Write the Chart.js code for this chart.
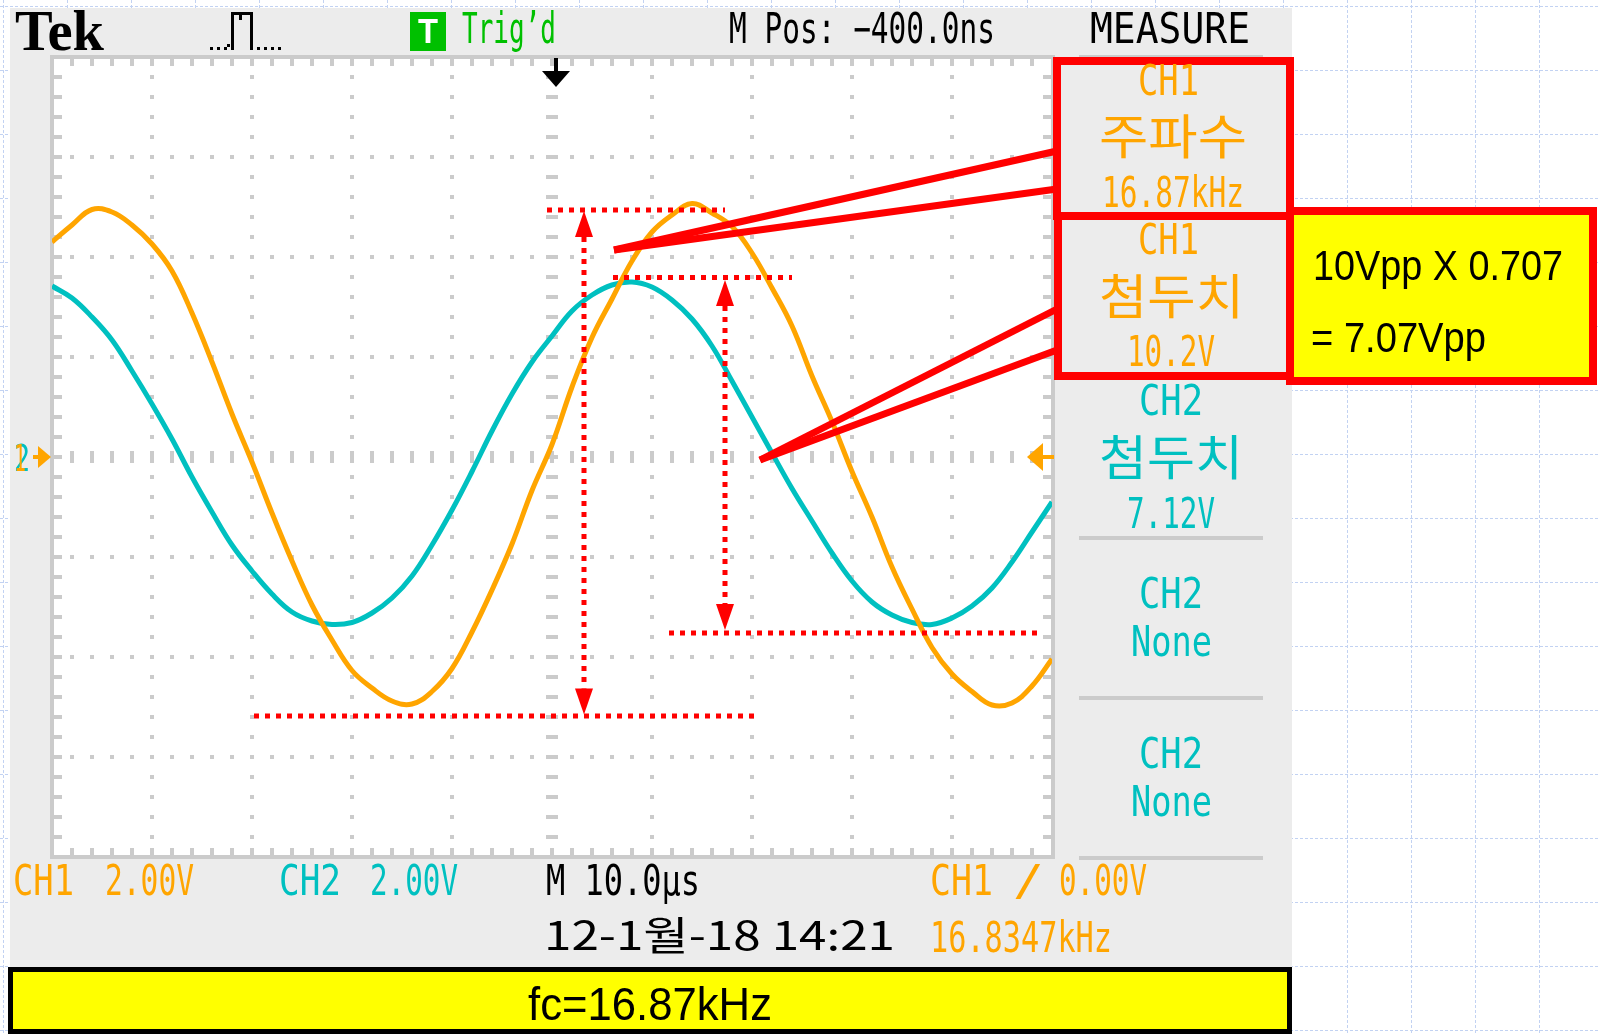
<!DOCTYPE html>
<html><head><meta charset="utf-8">
<script src="https://cdn.jsdelivr.net/npm/chart.js"></script>
<style>
html,body{margin:0;padding:0;background:#fff;overflow:hidden;}
#wrap{position:relative;width:1600px;height:1035px;}
#c{position:absolute;left:0;top:0;width:1600px;height:1035px;}
#ov{position:absolute;left:0;top:0;pointer-events:none;}
</style></head><body>
<div id="wrap"><canvas id="c" width="1600" height="1035"></canvas>
<svg id="ov" width="1600" height="1035" xmlns="http://www.w3.org/2000/svg"></svg></div>
<script>
// ---- data (time in µs, 10 µs/div; volts, 2 V/div) ----
const timeUs = [-50,-48,-46,-44,-42,-40,-38,-36,-34,-32,-30,-28,-26,-24,-22,-20,-18,-16,-14,-12,-10,-8,-6,-4,-2,0,2,4,6,8,10,12,14,16,18,20,22,24,26,28,30,32,34,36,38,40,42,44,46,48,50];
const ch1Volts = [4.30,4.64,4.95,4.90,4.64,4.26,3.72,2.88,1.90,0.86,-0.10,-1.12,-2.08,-2.96,-3.66,-4.27,-4.62,-4.88,-4.94,-4.69,-4.23,-3.50,-2.66,-1.74,-0.67,0.25,1.40,2.39,3.16,3.92,4.50,4.84,5.07,4.88,4.61,4.08,3.38,2.62,1.62,0.71,-0.29,-1.20,-2.20,-3.04,-3.81,-4.34,-4.69,-4.96,-4.92,-4.58,-4.04];
const ch2Volts = [3.42,3.18,2.80,2.34,1.72,1.06,0.36,-0.40,-1.10,-1.76,-2.28,-2.74,-3.10,-3.28,-3.35,-3.31,-3.12,-2.82,-2.38,-1.76,-1.06,-0.29,0.52,1.26,1.90,2.42,2.92,3.24,3.44,3.50,3.40,3.14,2.76,2.22,1.52,0.80,0.08,-0.63,-1.28,-1.92,-2.48,-2.90,-3.16,-3.31,-3.35,-3.22,-2.98,-2.62,-2.10,-1.50,-0.90];
const timeRange = [-50, 50];
const voltRange = [-8, 8];
const triggerTimeUs = 0.4;
const triggerLevelV = 0;

// measurement markers (data units)
const levelLines = [ {v:4.94, t0:-0.5, t1:17.3}, {v:3.59, t0:6.1, t1:24.0}, {v:-5.18, t0:-29.8, t1:20.2}, {v:-3.52, t0:11.7, t1:49.0} ];
const spanArrows = [ {t:3.2, v0:4.92, v1:-5.15}, {t:17.3, v0:3.54, v1:-3.46} ];
const calloutTips = [ {t:6.2, v:4.14}, {t:20.8, v:-0.06} ];

// texts
const headerTexts = ['Tek', 'Trig’d', 'M Pos: −400.0ns', 'MEASURE'];
const channelScales = ['CH1', '2.00V', 'CH2', '2.00V'];
const timebaseText = 'M 10.0μs';
const triggerTexts = ['CH1', '/', '0.00V'];
const dateText = '12-1월-18 14:21';
const counterText = '16.8347kHz';
const measureCH1Freq = ['CH1', '주파수', '16.87kHz'];
const measureCH1Pk = ['CH1', '첨두치', '10.2V'];
const measureCH2Pk = ['CH2', '첨두치', '7.12V'];
const measureNone = ['CH2', 'None'];
const noteLines = ['10Vpp X 0.707', '= 7.07Vpp'];
const footerText = 'fc=16.87kHz';

const ORANGE = '#ffa500', TEAL = '#00c0c0', GREEN = '#00c000', GRAT = '#cbcbcb', RED = '#ff0000';

const scopePlugin = {
  id: 'scope',
  beforeDraw(chart) {
    const ctx = chart.ctx, a = chart.chartArea;
    ctx.save();
    ctx.fillStyle = '#fff'; ctx.fillRect(0, 0, 1600, 1035);
    // page grid (dashed light blue)
    ctx.strokeStyle = '#c2d2f2'; ctx.lineWidth = 1; ctx.setLineDash([3, 2]);
    for (let x = 3.5; x < 1600; x += 64) { ctx.beginPath(); ctx.moveTo(x, 0); ctx.lineTo(x, 1035); ctx.stroke(); }
    for (let y = 6.5; y < 1035; y += 64) { ctx.beginPath(); ctx.moveTo(0, y); ctx.lineTo(1600, y); ctx.stroke(); }
    ctx.setLineDash([]);
    // scope screen panel
    ctx.fillStyle = '#ececec'; ctx.fillRect(10, 8, 1282, 960);
    // footer yellow box
    ctx.fillStyle = '#ffff00'; ctx.fillRect(8, 967, 1284, 67);
    ctx.strokeStyle = '#000'; ctx.lineWidth = 5; ctx.strokeRect(10.5, 969.5, 1279, 62);
    // plot area
    const W = a.right - a.left, H = a.bottom - a.top;
    ctx.fillStyle = '#fff'; ctx.fillRect(a.left, a.top, W, H);
    const divX = W / 10, divY = H / 8, mX = divX / 5, mY = divY / 5;
    ctx.fillStyle = GRAT;
    for (let j = 1; j < 8; j++) {
      const y = a.top + j * divY;
      for (let i = 1; i < 50; i++) {
        const x = a.left + i * mX;
        if (j === 4) ctx.fillRect(x - 2, y - 6, 4, 12); else ctx.fillRect(x - 2, y - 2, 4, 4);
      }
    }
    for (let i = 1; i < 10; i++) {
      const x = a.left + i * divX;
      for (let j = 1; j < 40; j++) {
        const y = a.top + j * mY;
        if (i === 5) ctx.fillRect(x - 6, y - 2, 12, 4); else ctx.fillRect(x - 2, y - 2, 4, 4);
      }
    }
    // border + edge ticks
    ctx.fillRect(a.left - 2, a.top - 2, W + 4, 4);
    ctx.fillRect(a.left - 2, a.bottom - 2, W + 4, 4);
    ctx.fillRect(a.left - 2, a.top - 2, 4, H + 4);
    ctx.fillRect(a.right - 1, a.top - 2, 4, H + 4);
    for (let i = 1; i < 50; i++) { const x = a.left + i * mX; ctx.fillRect(x - 2, a.top, 4, 9); ctx.fillRect(x - 2, a.bottom - 9, 4, 9); }
    for (let j = 1; j < 40; j++) { const y = a.top + j * mY; ctx.fillRect(a.left, y - 2, 10, 4); ctx.fillRect(a.right - 9, y - 2, 10, 4); }
    // measure panel separators
    [55, 536, 696, 856].forEach(y => ctx.fillRect(1079, y, 184, 4));
    // trigger position marker
    const xs = chart.scales.x, ys = chart.scales.y;
    const tx = xs.getPixelForValue(triggerTimeUs);
    ctx.fillStyle = '#000';
    ctx.fillRect(tx - 2, 58, 4, 14);
    ctx.beginPath(); ctx.moveTo(tx - 14, 71); ctx.lineTo(tx + 14, 71); ctx.lineTo(tx, 87); ctx.closePath(); ctx.fill();
    // trigger level marker (right)
    const ty = ys.getPixelForValue(triggerLevelV);
    ctx.fillStyle = ORANGE;
    ctx.fillRect(1042, ty - 2, 12, 4);
    ctx.beginPath(); ctx.moveTo(1027, ty); ctx.lineTo(1043, ty - 14); ctx.lineTo(1043, ty + 14); ctx.closePath(); ctx.fill();
    // ground marker (left)
    ctx.fillRect(33, ty - 2, 6, 4);
    ctx.beginPath(); ctx.moveTo(38, ty - 11); ctx.lineTo(51, ty); ctx.lineTo(38, ty + 11); ctx.closePath(); ctx.fill();
    // Trig'd green box
    ctx.fillStyle = GREEN; ctx.fillRect(410, 12, 36, 39);
    // pulse icon
    ctx.fillStyle = '#000';
    [210, 217, 224, 257, 264, 271, 278].forEach(x => ctx.fillRect(x, 47, 3, 3));
    ctx.fillRect(227, 44, 3, 3);
    ctx.fillRect(231, 13, 3, 37);
    ctx.fillRect(231, 12, 21, 3);
    ctx.fillRect(239, 15, 3, 5);
    ctx.fillRect(250, 12, 3, 38);
    ctx.restore();
  },
  afterDatasetsDraw(chart) {
    const ctx = chart.ctx, xs = chart.scales.x, ys = chart.scales.y;
    const px = v => xs.getPixelForValue(v), py = v => ys.getPixelForValue(v);
    ctx.save();
    // dotted level lines
    ctx.strokeStyle = RED; ctx.lineWidth = 5; ctx.setLineDash([5, 6]);
    levelLines.forEach(l => { ctx.beginPath(); ctx.moveTo(px(l.t0), py(l.v)); ctx.lineTo(px(l.t1), py(l.v)); ctx.stroke(); });
    // double arrows
    spanArrows.forEach(s => {
      const x = px(s.t), y0 = py(s.v0), y1 = py(s.v1), hl = 26, hw = 9;
      ctx.setLineDash([5, 6]); ctx.lineWidth = 5;
      ctx.beginPath(); ctx.moveTo(x, y0 + hl); ctx.lineTo(x, y1 - hl); ctx.stroke();
      ctx.setLineDash([]); ctx.fillStyle = RED;
      ctx.beginPath(); ctx.moveTo(x, y0); ctx.lineTo(x - hw, y0 + hl); ctx.lineTo(x + hw, y0 + hl); ctx.closePath(); ctx.fill();
      ctx.beginPath(); ctx.moveTo(x, y1); ctx.lineTo(x - hw, y1 - hl); ctx.lineTo(x + hw, y1 - hl); ctx.closePath(); ctx.fill();
    });
    ctx.setLineDash([]);
    // callouts
    const calloutEnds = [[[1057, 151], [1057, 189]], [[1057, 309], [1057, 350]]];
    ctx.strokeStyle = RED; ctx.lineWidth = 7; ctx.lineCap = 'butt';
    calloutTips.forEach((c, i) => {
      const x = px(c.t), y = py(c.v);
      calloutEnds[i].forEach(e => { ctx.beginPath(); ctx.moveTo(x, y); ctx.lineTo(e[0], e[1]); ctx.stroke(); });
    });
    // boxes
    ctx.lineWidth = 8;
    ctx.strokeRect(1057, 61, 233, 155);
    ctx.strokeRect(1058, 216, 232, 160);
    ctx.fillStyle = '#ffff00'; ctx.fillRect(1290, 211, 303, 170);
    ctx.strokeRect(1290, 211, 303, 170);
    ctx.restore();
  }
};

new Chart(document.getElementById('c'), {
  type: 'line',
  data: {
    datasets: [
      { label: 'CH1', data: timeUs.map((t, i) => ({ x: t, y: ch1Volts[i] })), borderColor: ORANGE, borderWidth: 5, pointRadius: 0, tension: 0.4, fill: false },
      { label: 'CH2', data: timeUs.map((t, i) => ({ x: t, y: ch2Volts[i] })), borderColor: TEAL, borderWidth: 5, pointRadius: 0, tension: 0.4, fill: false }
    ]
  },
  options: {
    responsive: false, animation: false, devicePixelRatio: 1,
    layout: { padding: { left: 52, right: 548, top: 57, bottom: 178 } },
    scales: {
      x: { type: 'linear', min: timeRange[0], max: timeRange[1], display: false },
      y: { type: 'linear', min: voltRange[0], max: voltRange[1], display: false }
    },
    plugins: { legend: { display: false }, tooltip: { enabled: false } }
  },
  plugins: [scopePlugin]
});

// ---- text overlay ----
const SCOPE = "'DejaVu Sans Mono', monospace", KR = "'Noto Sans CJK KR', sans-serif", SANS = "'Liberation Sans', Arial, sans-serif";
const labels = [
  { t: headerTexts[0], x: 15, y: 50, w: 89, size: 56, font: "'Liberation Serif', serif", weight: 'bold', color: '#000' },
  { t: 'T', x: 418, y: 43, w: 20, size: 35, font: SANS, weight: 'bold', color: '#fff' },
  { t: headerTexts[1], x: 462, y: 43, w: 94, size: 42, font: SCOPE, color: GREEN },
  { t: headerTexts[2], x: 729, y: 43, w: 266, size: 42, font: SCOPE, color: '#000' },
  { t: headerTexts[3], x: 1090, y: 43, w: 160, size: 42, font: SCOPE, color: '#000' },
  { t: channelScales[0], x: 13, y: 895, w: 61, size: 42, font: SCOPE, color: ORANGE },
  { t: channelScales[1], x: 105, y: 895, w: 89, size: 42, font: SCOPE, color: ORANGE },
  { t: channelScales[2], x: 279, y: 895, w: 62, size: 42, font: SCOPE, color: TEAL },
  { t: channelScales[3], x: 370, y: 895, w: 88, size: 42, font: SCOPE, color: TEAL },
  { t: timebaseText, x: 546, y: 895, w: 154, size: 42, font: SCOPE, color: '#000' },
  { t: triggerTexts[0], x: 930, y: 895, w: 63, size: 42, font: SCOPE, color: ORANGE },
  { t: triggerTexts[1], x: 1013, y: 895, w: 31, size: 42, font: SCOPE, color: ORANGE },
  { t: triggerTexts[2], x: 1059, y: 895, w: 88, size: 42, font: SCOPE, color: ORANGE },
  { t: dateText, x: 544, y: 950, w: 351, size: 40, font: KR, color: '#000' },
  { t: counterText, x: 930, y: 952, w: 182, size: 42, font: SCOPE, color: ORANGE },
  { t: measureCH1Freq[0], x: 1138, y: 95, w: 61, size: 42, font: SCOPE, color: ORANGE },
  { t: measureCH1Freq[1], x: 1099, y: 154, w: 148, size: 48, font: KR, color: ORANGE },
  { t: measureCH1Freq[2], x: 1102, y: 207, w: 142, size: 42, font: SCOPE, color: ORANGE },
  { t: measureCH1Pk[0], x: 1138, y: 254, w: 61, size: 42, font: SCOPE, color: ORANGE },
  { t: measureCH1Pk[1], x: 1099, y: 314, w: 145, size: 48, font: KR, color: ORANGE },
  { t: measureCH1Pk[2], x: 1127, y: 366, w: 88, size: 42, font: SCOPE, color: ORANGE },
  { t: measureCH2Pk[0], x: 1139, y: 415, w: 64, size: 42, font: SCOPE, color: TEAL },
  { t: measureCH2Pk[1], x: 1099, y: 475, w: 144, size: 48, font: KR, color: TEAL },
  { t: measureCH2Pk[2], x: 1127, y: 528, w: 88, size: 42, font: SCOPE, color: TEAL },
  { t: measureNone[0], x: 1139, y: 608, w: 64, size: 42, font: SCOPE, color: TEAL },
  { t: measureNone[1], x: 1131, y: 656, w: 81, size: 42, font: SCOPE, color: TEAL },
  { t: measureNone[0], x: 1139, y: 768, w: 64, size: 42, font: SCOPE, color: TEAL },
  { t: measureNone[1], x: 1131, y: 816, w: 81, size: 42, font: SCOPE, color: TEAL },
  { t: noteLines[0], x: 1313, y: 280, w: 250, size: 42, font: SANS, color: '#000' },
  { t: noteLines[1], x: 1311, y: 352, w: 175, size: 42, font: SANS, color: '#000' },
  { t: footerText, x: 528, y: 1020, w: 244, size: 46, font: SANS, color: '#000' },
  { t: '2', x: 14, y: 471, w: 16, size: 38, font: SCOPE, color: TEAL },
  { t: '1', x: 14, y: 471, w: 12, size: 38, font: SCOPE, color: ORANGE }
];
const NS = 'http://www.w3.org/2000/svg';
const svg = document.getElementById('ov');
labels.forEach(L => {
  const el = document.createElementNS(NS, 'text');
  el.setAttribute('x', L.x); el.setAttribute('y', L.y);
  el.setAttribute('font-family', L.font); el.setAttribute('font-size', L.size);
  if (L.weight) el.setAttribute('font-weight', L.weight);
  el.setAttribute('fill', L.color);
  el.setAttribute('textLength', L.w); el.setAttribute('lengthAdjust', 'spacingAndGlyphs');
  el.textContent = L.t;
  svg.appendChild(el);
});
</script>
</body></html>
